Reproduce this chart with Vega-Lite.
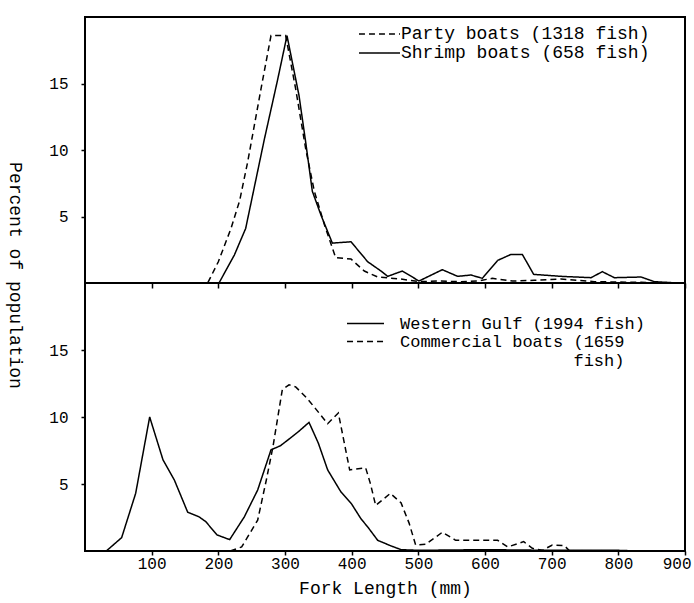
{
  "$schema": "https://vega.github.io/schema/vega-lite/v6.json",
  "background": "white",
  "padding": {"left": 4, "top": 16, "right": 2, "bottom": 2},
  "spacing": 0,
  "bounds": "flush",
  "config": {
    "font": "Liberation Mono",
    "view": {"stroke": "black", "strokeWidth": 2},
    "axis": {
      "labelFont": "Liberation Mono",
      "titleFont": "Liberation Mono",
      "labelColor": "black",
      "titleColor": "black",
      "tickColor": "black",
      "tickWidth": 1.5,
      "domain": false,
      "grid": false,
      "titleFontWeight": "normal"
    },
    "legend": {
      "labelFont": "Liberation Mono",
      "labelColor": "black",
      "labelLimit": 500,
      "padding": 0,
      "rowPadding": 0,
      "symbolStrokeColor": "black",
      "symbolStrokeWidth": 1.5
    }
  },
  "datasets": {
    "top": [
      {"series": "Party boats (1318 fish)", "length": 140, "pct": 0},
      {"series": "Party boats (1318 fish)", "length": 184, "pct": 0},
      {"series": "Party boats (1318 fish)", "length": 200, "pct": 1.6},
      {"series": "Party boats (1318 fish)", "length": 219, "pct": 4.1},
      {"series": "Party boats (1318 fish)", "length": 232, "pct": 6.2},
      {"series": "Party boats (1318 fish)", "length": 244, "pct": 9.1},
      {"series": "Party boats (1318 fish)", "length": 264, "pct": 14.6},
      {"series": "Party boats (1318 fish)", "length": 279, "pct": 18.6},
      {"series": "Party boats (1318 fish)", "length": 301, "pct": 18.6},
      {"series": "Party boats (1318 fish)", "length": 316, "pct": 14.6},
      {"series": "Party boats (1318 fish)", "length": 331, "pct": 10.1},
      {"series": "Party boats (1318 fish)", "length": 344, "pct": 6.9},
      {"series": "Party boats (1318 fish)", "length": 359, "pct": 4.4},
      {"series": "Party boats (1318 fish)", "length": 376, "pct": 1.9},
      {"series": "Party boats (1318 fish)", "length": 399, "pct": 1.8},
      {"series": "Party boats (1318 fish)", "length": 419, "pct": 0.9},
      {"series": "Party boats (1318 fish)", "length": 439, "pct": 0.45},
      {"series": "Party boats (1318 fish)", "length": 474, "pct": 0.3},
      {"series": "Party boats (1318 fish)", "length": 501, "pct": 0.1},
      {"series": "Party boats (1318 fish)", "length": 529, "pct": 0.15},
      {"series": "Party boats (1318 fish)", "length": 564, "pct": 0.1},
      {"series": "Party boats (1318 fish)", "length": 589, "pct": 0.15},
      {"series": "Party boats (1318 fish)", "length": 611, "pct": 0.35},
      {"series": "Party boats (1318 fish)", "length": 641, "pct": 0.15},
      {"series": "Party boats (1318 fish)", "length": 674, "pct": 0.2},
      {"series": "Party boats (1318 fish)", "length": 714, "pct": 0.3},
      {"series": "Party boats (1318 fish)", "length": 764, "pct": 0.1},
      {"series": "Party boats (1318 fish)", "length": 834, "pct": 0.05},
      {"series": "Party boats (1318 fish)", "length": 864, "pct": 0},
      {"series": "Shrimp boats (658 fish)", "length": 180, "pct": 0},
      {"series": "Shrimp boats (658 fish)", "length": 201, "pct": 0},
      {"series": "Shrimp boats (658 fish)", "length": 224, "pct": 2.1},
      {"series": "Shrimp boats (658 fish)", "length": 241, "pct": 4.1},
      {"series": "Shrimp boats (658 fish)", "length": 269, "pct": 10.8},
      {"series": "Shrimp boats (658 fish)", "length": 289, "pct": 15.3},
      {"series": "Shrimp boats (658 fish)", "length": 303, "pct": 18.6},
      {"series": "Shrimp boats (658 fish)", "length": 321, "pct": 14.1},
      {"series": "Shrimp boats (658 fish)", "length": 331, "pct": 10.6},
      {"series": "Shrimp boats (658 fish)", "length": 341, "pct": 6.9},
      {"series": "Shrimp boats (658 fish)", "length": 354, "pct": 5.1},
      {"series": "Shrimp boats (658 fish)", "length": 371, "pct": 3.0},
      {"series": "Shrimp boats (658 fish)", "length": 399, "pct": 3.1},
      {"series": "Shrimp boats (658 fish)", "length": 424, "pct": 1.6},
      {"series": "Shrimp boats (658 fish)", "length": 444, "pct": 0.9},
      {"series": "Shrimp boats (658 fish)", "length": 454, "pct": 0.5},
      {"series": "Shrimp boats (658 fish)", "length": 476, "pct": 0.9},
      {"series": "Shrimp boats (658 fish)", "length": 501, "pct": 0.15},
      {"series": "Shrimp boats (658 fish)", "length": 536, "pct": 1.0},
      {"series": "Shrimp boats (658 fish)", "length": 559, "pct": 0.5},
      {"series": "Shrimp boats (658 fish)", "length": 579, "pct": 0.6},
      {"series": "Shrimp boats (658 fish)", "length": 596, "pct": 0.35},
      {"series": "Shrimp boats (658 fish)", "length": 619, "pct": 1.7},
      {"series": "Shrimp boats (658 fish)", "length": 639, "pct": 2.15},
      {"series": "Shrimp boats (658 fish)", "length": 656, "pct": 2.15},
      {"series": "Shrimp boats (658 fish)", "length": 673, "pct": 0.65},
      {"series": "Shrimp boats (658 fish)", "length": 714, "pct": 0.5},
      {"series": "Shrimp boats (658 fish)", "length": 759, "pct": 0.4},
      {"series": "Shrimp boats (658 fish)", "length": 776, "pct": 0.85},
      {"series": "Shrimp boats (658 fish)", "length": 794, "pct": 0.4},
      {"series": "Shrimp boats (658 fish)", "length": 834, "pct": 0.45},
      {"series": "Shrimp boats (658 fish)", "length": 854, "pct": 0.1},
      {"series": "Shrimp boats (658 fish)", "length": 889, "pct": 0}
    ],
    "bottom": [
      {"series": "Western Gulf (1994 fish)", "length": 32, "pct": 0},
      {"series": "Western Gulf (1994 fish)", "length": 55, "pct": 1.0},
      {"series": "Western Gulf (1994 fish)", "length": 76, "pct": 4.3},
      {"series": "Western Gulf (1994 fish)", "length": 97, "pct": 10},
      {"series": "Western Gulf (1994 fish)", "length": 117, "pct": 6.8},
      {"series": "Western Gulf (1994 fish)", "length": 134, "pct": 5.3},
      {"series": "Western Gulf (1994 fish)", "length": 154, "pct": 2.9},
      {"series": "Western Gulf (1994 fish)", "length": 171, "pct": 2.55},
      {"series": "Western Gulf (1994 fish)", "length": 181, "pct": 2.2},
      {"series": "Western Gulf (1994 fish)", "length": 198, "pct": 1.2},
      {"series": "Western Gulf (1994 fish)", "length": 217, "pct": 0.85},
      {"series": "Western Gulf (1994 fish)", "length": 239, "pct": 2.55},
      {"series": "Western Gulf (1994 fish)", "length": 259, "pct": 4.55},
      {"series": "Western Gulf (1994 fish)", "length": 279, "pct": 7.55},
      {"series": "Western Gulf (1994 fish)", "length": 293, "pct": 7.85},
      {"series": "Western Gulf (1994 fish)", "length": 306, "pct": 8.35},
      {"series": "Western Gulf (1994 fish)", "length": 320, "pct": 8.9},
      {"series": "Western Gulf (1994 fish)", "length": 336, "pct": 9.6},
      {"series": "Western Gulf (1994 fish)", "length": 350, "pct": 8.05},
      {"series": "Western Gulf (1994 fish)", "length": 364, "pct": 6.05},
      {"series": "Western Gulf (1994 fish)", "length": 384, "pct": 4.4},
      {"series": "Western Gulf (1994 fish)", "length": 400, "pct": 3.5},
      {"series": "Western Gulf (1994 fish)", "length": 414, "pct": 2.4},
      {"series": "Western Gulf (1994 fish)", "length": 424, "pct": 1.8},
      {"series": "Western Gulf (1994 fish)", "length": 439, "pct": 0.8},
      {"series": "Western Gulf (1994 fish)", "length": 458, "pct": 0.4},
      {"series": "Western Gulf (1994 fish)", "length": 474, "pct": 0.1},
      {"series": "Western Gulf (1994 fish)", "length": 500, "pct": 0.05},
      {"series": "Western Gulf (1994 fish)", "length": 600, "pct": 0.1},
      {"series": "Western Gulf (1994 fish)", "length": 700, "pct": 0.05},
      {"series": "Western Gulf (1994 fish)", "length": 800, "pct": 0.05},
      {"series": "Western Gulf (1994 fish)", "length": 830, "pct": 0},
      {"series": "Commercial boats (1659 fish)", "length": 218, "pct": 0},
      {"series": "Commercial boats (1659 fish)", "length": 235, "pct": 0.3},
      {"series": "Commercial boats (1659 fish)", "length": 259, "pct": 2.3},
      {"series": "Commercial boats (1659 fish)", "length": 272, "pct": 5.3},
      {"series": "Commercial boats (1659 fish)", "length": 282, "pct": 7.8},
      {"series": "Commercial boats (1659 fish)", "length": 296, "pct": 12.05},
      {"series": "Commercial boats (1659 fish)", "length": 306, "pct": 12.4},
      {"series": "Commercial boats (1659 fish)", "length": 316, "pct": 12.25},
      {"series": "Commercial boats (1659 fish)", "length": 333, "pct": 11.4},
      {"series": "Commercial boats (1659 fish)", "length": 347, "pct": 10.55},
      {"series": "Commercial boats (1659 fish)", "length": 364, "pct": 9.5},
      {"series": "Commercial boats (1659 fish)", "length": 380, "pct": 10.3},
      {"series": "Commercial boats (1659 fish)", "length": 387, "pct": 8.55},
      {"series": "Commercial boats (1659 fish)", "length": 397, "pct": 6.05},
      {"series": "Commercial boats (1659 fish)", "length": 421, "pct": 6.2},
      {"series": "Commercial boats (1659 fish)", "length": 428, "pct": 5.05},
      {"series": "Commercial boats (1659 fish)", "length": 436, "pct": 3.4},
      {"series": "Commercial boats (1659 fish)", "length": 458, "pct": 4.3},
      {"series": "Commercial boats (1659 fish)", "length": 474, "pct": 3.6},
      {"series": "Commercial boats (1659 fish)", "length": 486, "pct": 2.1},
      {"series": "Commercial boats (1659 fish)", "length": 496, "pct": 0.45},
      {"series": "Commercial boats (1659 fish)", "length": 511, "pct": 0.5},
      {"series": "Commercial boats (1659 fish)", "length": 536, "pct": 1.4},
      {"series": "Commercial boats (1659 fish)", "length": 556, "pct": 0.8},
      {"series": "Commercial boats (1659 fish)", "length": 590, "pct": 0.8},
      {"series": "Commercial boats (1659 fish)", "length": 619, "pct": 0.8},
      {"series": "Commercial boats (1659 fish)", "length": 634, "pct": 0.3},
      {"series": "Commercial boats (1659 fish)", "length": 658, "pct": 0.7},
      {"series": "Commercial boats (1659 fish)", "length": 671, "pct": 0.2},
      {"series": "Commercial boats (1659 fish)", "length": 686, "pct": 0.05},
      {"series": "Commercial boats (1659 fish)", "length": 701, "pct": 0.45},
      {"series": "Commercial boats (1659 fish)", "length": 719, "pct": 0.4},
      {"series": "Commercial boats (1659 fish)", "length": 727, "pct": 0}
    ]
  },
  "vconcat": [
    {
      "width": 600,
      "height": 266,
      "data": {"name": "top"},
      "mark": {"type": "line", "color": "black", "strokeWidth": 1.5},
      "encoding": {
        "x": {
          "field": "length",
          "type": "quantitative",
          "scale": {"domain": [0, 900], "nice": false, "zero": false},
          "axis": {"values": [100, 200, 300, 400, 500, 600, 700, 800, 900], "labels": false, "title": null, "tickSize": 5}
        },
        "y": {
          "field": "pct",
          "type": "quantitative",
          "scale": {"domain": [0, 20], "nice": false},
          "axis": {
            "values": [5, 10, 15],
            "title": "Percent of population",
            "titleAngle": 90,
            "titleX": -71,
            "titleY": 258,
            "titleAlign": "center",
            "titleBaseline": "middle",
            "titleFontSize": 18,
            "labelFontSize": 16,
            "tickSize": 4,
            "labelPadding": 13
          }
        },
        "strokeDash": {
          "field": "series",
          "type": "nominal",
          "scale": {"domain": ["Party boats (1318 fish)", "Shrimp boats (658 fish)"], "range": [[6, 4], [1, 0]]},
          "legend": {
            "title": null,
            "orient": "none",
            "legendX": 296,
            "legendY": 7,
            "symbolType": "M-3.56,0H1",
            "symbolSize": 324,
            "labelFontSize": 18,
            "labelOffset": 0
          }
        }
      }
    },
    {
      "width": 600,
      "height": 268,
      "data": {"name": "bottom"},
      "mark": {"type": "line", "color": "black", "strokeWidth": 1.5},
      "encoding": {
        "x": {
          "field": "length",
          "type": "quantitative",
          "scale": {"domain": [0, 900], "nice": false, "zero": false},
          "axis": {
            "values": [100, 200, 300, 400, 500, 600, 700, 800, 900],
            "title": "Fork Length (mm)",
            "titleFontSize": 18,
            "titlePadding": 8,
            "labelFontSize": 16,
            "tickSize": 4,
            "labelPadding": 0,
            "labelFlush": true,
            "labelFlushOffset": 6
          }
        },
        "y": {
          "field": "pct",
          "type": "quantitative",
          "scale": {"domain": [0, 20], "nice": false},
          "axis": {"values": [5, 10, 15], "title": null, "labelFontSize": 16, "tickSize": 4, "labelPadding": 13}
        },
        "strokeDash": {
          "field": "series",
          "type": "nominal",
          "scale": {"domain": ["Western Gulf (1994 fish)", "Commercial boats (1659 fish)"], "range": [[1, 0], [6, 4]]},
          "legend": {
            "title": null,
            "orient": "none",
            "legendX": 281,
            "legendY": 31,
            "symbolType": "M-3.35,0H1",
            "symbolSize": 289,
            "labelFontSize": 17,
            "labelOffset": 15,
            "labelExpr": "datum.label == 'Commercial boats (1659 fish)' ? ['Commercial boats (1659', '\u200b\u00a0\u00a0\u00a0\u00a0\u00a0\u00a0\u00a0\u00a0\u00a0\u00a0\u00a0\u00a0\u00a0\u00a0\u00a0\u00a0\u00a0fish)'] : datum.label"
          }
        }
      }
    }
  ],
  "resolve": {"scale": {"strokeDash": "independent"}, "legend": {"strokeDash": "independent"}}
}
